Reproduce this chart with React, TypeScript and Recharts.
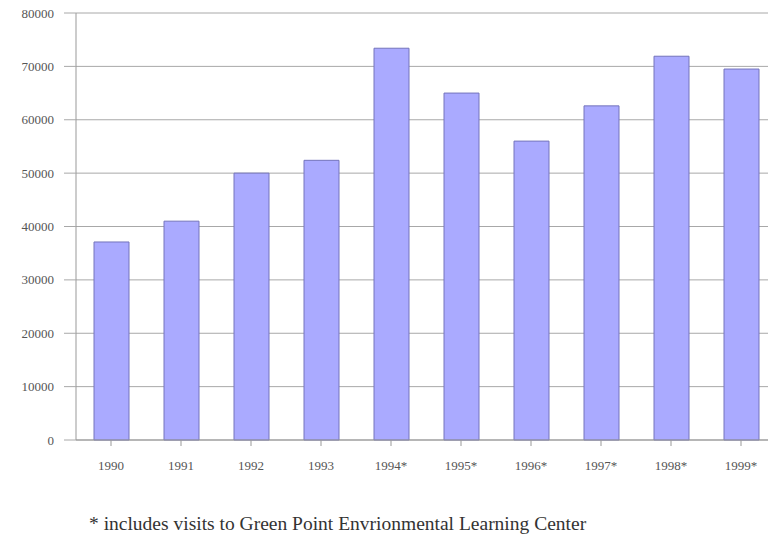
import React from "react";
import { BarChart, Bar, XAxis, YAxis, CartesianGrid } from "recharts";

const years = ["1990", "1991", "1992", "1993", "1994*", "1995*", "1996*", "1997*", "1998*", "1999*"];
const visits = [37100, 41000, 50000, 52400, 73400, 65000, 56000, 62600, 71900, 69500];
const yTicks = [0, 10000, 20000, 30000, 40000, 50000, 60000, 70000, 80000];
const footnote = "* includes visits to Green Point Envrionmental Learning Center";

const data = years.map((y, i) => ({ year: y, visits: visits[i] }));

const font = "Liberation Serif, DejaVu Serif, serif";

export default function App() {
  return (
    <div style={{ position: "absolute", left: 0, top: 0, width: 768, height: 537, background: "#fff", fontFamily: font, overflow: "hidden" }}>
      <BarChart
        width={776}
        height={537}
        data={data}
        margin={{ top: 13, right: 0, left: 0, bottom: 57 }}
        barSize={35}
        style={{ fontFamily: font }}
      >
        <CartesianGrid vertical={false} stroke="#a8a8a8" strokeWidth={1} />
        <XAxis
          dataKey="year"
          axisLine={{ stroke: "#999" }}
          tickLine={{ stroke: "#999" }}
          tickSize={6}
          tickMargin={15}
          height={40}
          tick={{ fontSize: 13, fill: "#555", fontFamily: font }}
          interval={0}
        />
        <YAxis
          domain={[0, 80000]}
          ticks={yTicks}
          width={76}
          axisLine={{ stroke: "#999" }}
          tickLine={{ stroke: "#a8a8a8" }}
          tickSize={12}
          tickMargin={10}
          tick={{ fontSize: 13, fill: "#555", fontFamily: font }}
          interval={0}
        />
        <Bar dataKey="visits" fill="#aaaaff" stroke="#7474bc" strokeWidth={1} isAnimationActive={false} />
      </BarChart>
      <div
        style={{
          position: "absolute",
          left: 89,
          top: 513,
          fontSize: 19.5,
          color: "#333",
          fontFamily: font,
          whiteSpace: "nowrap",
        }}
      >
        {footnote}
      </div>
    </div>
  );
}
